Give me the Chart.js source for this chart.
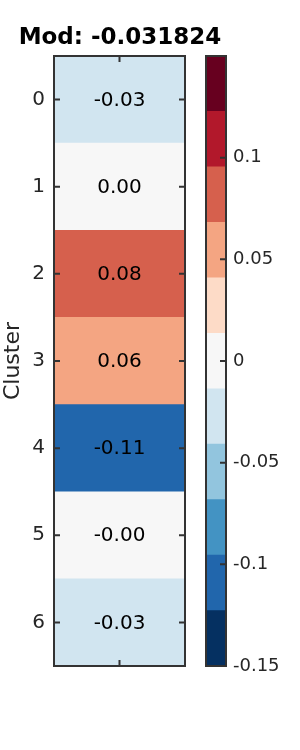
<!DOCTYPE html>
<html>
<head>
<meta charset="utf-8">
<script src="https://cdn.jsdelivr.net/npm/chart.js@4/dist/chart.umd.min.js"></script>
<style>
  html, body { margin: 0; padding: 0; background: #fff; }
  #wrap { position: relative; width: 300px; height: 750px; }
  #wrap canvas { position: absolute; left: 0; top: 0; }
</style>
</head>
<body>
<div id="wrap">
  <canvas id="heat" width="300" height="750"></canvas>
  <canvas id="cbar" width="300" height="750"></canvas>
</div>
<script>
  // data
  const clusters = ["0", "1", "2", "3", "4", "5", "6"];
  const modValues = [-0.032, 0.002, 0.081, 0.058, -0.112, -0.002, -0.031];
  const modTotal = "-0.031824";
  const cbMin = -0.15;
  const cbMax = 0.15;
  const cbTicks = [-0.15, -0.1, -0.05, 0, 0.05, 0.1];
  const binColors = [
    "#053061", "#2166ac", "#4393c3", "#92c5de", "#d1e5f0", "#f7f7f7",
    "#fddbc7", "#f4a582", "#d6604d", "#b2182b", "#67001f"
  ];

  const FONT = "'DejaVu Sans', sans-serif";
  const INK = "#262626";
  const FRAME = "#333333";

  const colorFor = (v) => {
    const n = binColors.length;
    let i = Math.floor((v - cbMin) / (cbMax - cbMin) * n);
    i = Math.max(0, Math.min(n - 1, i));
    return binColors[i];
  };

  // frame round the plot area + inward tick marks
  const frameAndTicks = {
    id: "frameAndTicks",
    afterDatasetsDraw(chart, args, opts) {
      const { ctx, chartArea: a, scales } = chart;
      const len = 6;
      ctx.save();
      ctx.strokeStyle = FRAME;
      ctx.lineWidth = 2;
      ctx.beginPath();
      (opts.y || []).forEach((side) => {
        const s = scales.y;
        s.ticks.forEach((t, i) => {
          const py = s.getPixelForTick(i);
          const x0 = side === "left" ? a.left : a.right;
          ctx.moveTo(x0, py);
          ctx.lineTo(x0 + (side === "left" ? len : -len), py);
        });
      });
      (opts.x || []).forEach((side) => {
        const s = scales.x;
        s.ticks.forEach((t, i) => {
          const px = s.getPixelForTick(i);
          const y0 = side === "top" ? a.top : a.bottom;
          ctx.moveTo(px, y0);
          ctx.lineTo(px, y0 + (side === "top" ? len : -len));
        });
      });
      ctx.stroke();
      ctx.strokeRect(a.left, a.top, a.right - a.left, a.bottom - a.top);
      ctx.restore();
    }
  };

  // value text in each cell
  const cellLabels = {
    id: "cellLabels",
    afterDatasetsDraw(chart) {
      const { ctx } = chart;
      const meta = chart.getDatasetMeta(0);
      ctx.save();
      ctx.fillStyle = "#000";
      ctx.font = "20px " + FONT;
      ctx.textAlign = "center";
      ctx.textBaseline = "middle";
      meta.data.forEach((el, i) => {
        ctx.fillText(modValues[i].toFixed(2), (el.x + el.base) / 2, el.y + 1);
      });
      ctx.restore();
    }
  };

  new Chart(document.getElementById("heat"), {
    type: "bar",
    data: {
      labels: clusters,
      datasets: [{
        data: modValues.map(() => [0, 1]),
        backgroundColor: modValues.map(colorFor),
        borderWidth: 0,
        barPercentage: 1,
        categoryPercentage: 1
      }]
    },
    options: {
      indexAxis: "y",
      responsive: false,
      animation: false,
      // title spans 0..240 -> centred over the heatmap
      layout: { padding: { left: 0, right: 60, top: 0, bottom: 0 } },
      plugins: {
        legend: { display: false },
        tooltip: { enabled: false },
        title: {
          display: true,
          text: "Mod: " + modTotal,
          color: "#000",
          font: { family: FONT, size: 23, weight: "bold" },
          padding: { top: 24, bottom: 4.4 }
        },
        frameAndTicks: { y: ["left", "right"], x: ["top", "bottom"] }
      },
      scales: {
        x: {
          type: "linear",
          min: 0,
          max: 1,
          afterBuildTicks: (s) => { s.ticks = [{ value: 0.5 }]; },
          ticks: { display: false },
          grid: { display: false, drawTicks: false },
          border: { display: false },
          afterFit: (s) => { s.height = 84; }
        },
        y: {
          type: "category",
          offset: true,
          ticks: { color: INK, font: { family: FONT, size: 20 }, padding: 9 },
          grid: { display: false, drawTicks: false },
          border: { display: false },
          title: {
            display: true,
            text: "Cluster",
            color: INK,
            font: { family: FONT, size: 22 },
            padding: 0
          },
          afterFit: (s) => { s.width = 54; }
        },
        yPad: {
          type: "category",
          position: "right",
          ticks: { display: false },
          grid: { display: false, drawTicks: false },
          border: { display: false },
          afterFit: (s) => { s.width = 55; }
        }
      }
    },
    plugins: [cellLabels, frameAndTicks]
  });

  const step = (cbMax - cbMin) / binColors.length;

  new Chart(document.getElementById("cbar"), {
    type: "bar",
    data: {
      labels: ["cb"],
      datasets: binColors.map((c, i) => ({
        data: [[cbMin + i * step, cbMin + (i + 1) * step]],
        backgroundColor: c,
        borderWidth: 0,
        barPercentage: 1,
        categoryPercentage: 1,
        grouped: false
      }))
    },
    options: {
      responsive: false,
      animation: false,
      layout: { padding: { left: 206, right: 0, top: 56, bottom: 84 } },
      plugins: {
        legend: { display: false },
        tooltip: { enabled: false },
        frameAndTicks: { y: ["right"] }
      },
      scales: {
        x: { display: false },
        y: {
          position: "right",
          min: cbMin,
          max: cbMax,
          afterBuildTicks: (s) => { s.ticks = cbTicks.map((v) => ({ value: v })); },
          ticks: {
            color: INK,
            font: { family: FONT, size: 18 },
            padding: 7,
            callback: (v) => String(Math.round(v * 100) / 100)
          },
          grid: { display: false, drawTicks: false },
          border: { display: false },
          afterFit: (s) => { s.width = 74; }
        }
      }
    },
    plugins: [frameAndTicks]
  });
</script>
</body>
</html>
